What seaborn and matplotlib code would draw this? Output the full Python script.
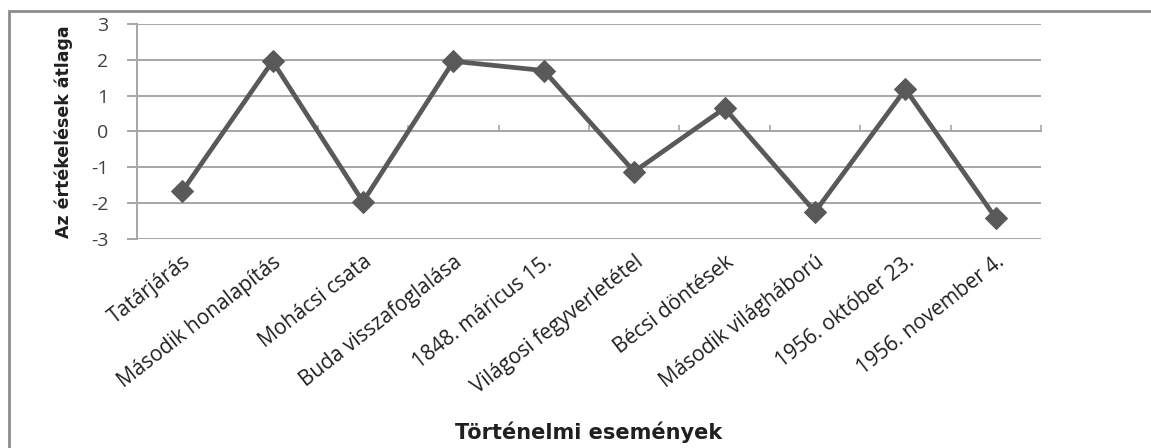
import matplotlib
matplotlib.use("Agg")
import matplotlib.pyplot as plt
import seaborn as sns
import pandas as pd
from matplotlib.patches import Rectangle

events = [
    "Tatárjárás",
    "Második honalapítás",
    "Mohácsi csata",
    "Buda visszafoglalása",
    "1848. máricus 15.",
    "Világosi fegyverletétel",
    "Bécsi döntések",
    "Második világháború",
    "1956. október 23.",
    "1956. november 4.",
]
averages = [-1.67, 1.96, -1.96, 1.96, 1.70, -1.12, 0.65, -2.24, 1.18, -2.42]
y_ticks = [-3, -2, -1, 0, 1, 2, 3]

sns.set_theme(style="white")
plt.rcParams["font.family"] = ["Open Sans", "DejaVu Sans"]

line_col = "#595959"
grid_col = "#a6a6a6"

fig = plt.figure(figsize=(11.51, 4.48), dpi=100)
ax = fig.add_axes([0.119, 0.4665, 0.7855, 0.48])

df = pd.DataFrame({"event": events, "avg": averages})
sns.lineplot(data=df, x="event", y="avg", ax=ax, color=line_col,
             linewidth=3.4, marker="D", markersize=11,
             markeredgecolor=line_col, markerfacecolor=line_col, sort=False)

ax.set_xlim(-0.5, len(events) - 0.5)
ax.set_ylim(-3, 3)
ax.set_yticks(y_ticks)
ax.set_yticklabels([str(v) for v in y_ticks], fontsize=14, color="#404040")
for v in y_ticks:
    ax.axhline(v, color=grid_col, linewidth=1.4, zorder=0)

for side in ["top", "right", "bottom"]:
    ax.spines[side].set_visible(False)
ax.spines["left"].set_color(grid_col)
ax.spines["left"].set_linewidth(1.4)
ax.tick_params(axis="y", which="major", direction="out", length=7.5, width=1.4,
               color=grid_col, pad=13, left=True)

ax.set_xticks(range(len(events)))
ax.set_xticklabels(events, rotation=38, ha="right", rotation_mode="anchor",
                   fontsize=15, color="#202020")
ax.tick_params(axis="x", length=0, pad=9)

# category boundary ticks along the zero line
zero_axis = ax.secondary_xaxis(0.5)
zero_axis.set_xticks([i - 0.5 for i in range(len(events) + 1)])
zero_axis.set_xticklabels([])
zero_axis.tick_params(axis="x", direction="out", length=4, width=1.2, color=grid_col)
for sp in zero_axis.spines.values():
    sp.set_color(grid_col)
    sp.set_linewidth(1.4)

ax.set_xlabel("Történelmi események", fontsize=15, fontweight="bold",
              color="#202020", family=["DejaVu Sans"])
ax.xaxis.set_label_coords(0.5, -0.85)
ax.set_ylabel("Az értékelések átlaga", fontsize=12.5, fontweight="bold",
              color="#202020", family=["DejaVu Sans"])
ax.yaxis.set_label_coords(-0.071, 0.5)

# outer chart frame
fig.patches.append(Rectangle((9 / 1151, -0.1), 1.2, 1 - 11 / 448 + 0.1,
                             transform=fig.transFigure, fill=False,
                             edgecolor="#8c8c8c", linewidth=2))

fig.savefig("out.png", dpi=100, facecolor="white")
